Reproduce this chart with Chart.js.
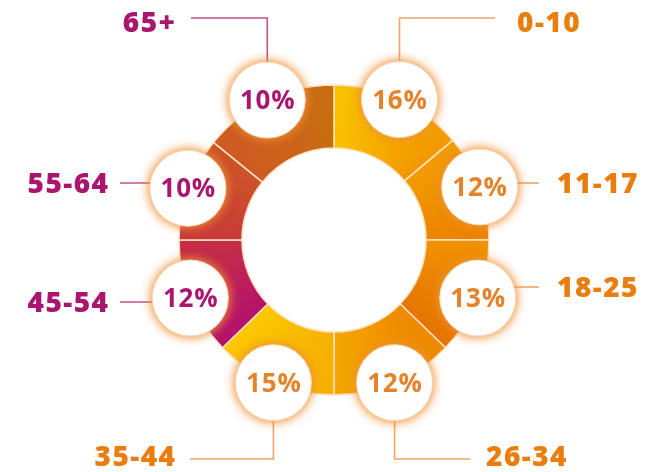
<!DOCTYPE html>
<html>
<head>
<meta charset="utf-8">
<script src="https://cdn.jsdelivr.net/npm/chart.js@4.4.1/dist/chart.umd.min.js"></script>
<style>
  html, body { margin: 0; padding: 0; background: #ffffff; }
  #wrap { width: 657px; height: 472px; position: relative; }
</style>
</head>
<body>
<div id="wrap"><canvas id="c"></canvas></div>
<script>
// ---------- data ----------
const ageGroups = ['0-10', '11-17', '18-25', '26-34', '35-44', '45-54', '55-64', '65+'];
const sharePercent = [16, 12, 13, 12, 15, 12, 10, 10];
// sweep of each wedge as drawn in the picture (degrees) – the wedges are near-equal, not proportional
const wedgeDegrees = [50, 40, 44, 46, 46, 44, 39, 51];

// ---------- styles ----------
const ORANGE = '#e97d0e';
const ORANGE_PCT = '#e5832a';
const MAGENTA = '#a9166e';
const ORANGE_LINE = '#f0a466';
const MAGENTA_LINE = '#c0528c';
const tone = ['o', 'o', 'o', 'o', 'o', 'm', 'm', 'm'];
const segGradient = [
  ['#fac300', '#f29700'],
  ['#f39c00', '#ec8300'],
  ['#f09300', '#e67400'],
  ['#ee8800', '#f5a700'],
  ['#f6b000', '#fdc800'],
  ['#b5126c', '#c72e44'],
  ['#c83a3a', '#cd5428'],
  ['#cf5a22', '#c96e10']
];
// callout layout (annotation positions)
const callouts = [
  { dir: 'up',   lineTo: 495, textX: 517, align: 'left' },
  { dir: 'side', lineTo: 539, textX: 557, align: 'left',  lineY: 183 },
  { dir: 'side', lineTo: 539, textX: 557, align: 'left',  lineY: 287 },
  { dir: 'down', lineTo: 470, textX: 486, align: 'left' },
  { dir: 'down', lineTo: 190, textX: 175, align: 'right' },
  { dir: 'side', lineTo: 120, textX: 108, align: 'right', lineY: 302 },
  { dir: 'side', lineTo: 120, textX: 108, align: 'right', lineY: 183 },
  { dir: 'up',   lineTo: 191, textX: 175, align: 'right' }
];
const TOP_Y = 18, BOTTOM_Y = 459, BUBBLE_R = 38;
const LABEL_FONT = '800 28px "Open Sans", "DejaVu Sans", sans-serif';
const PCT_FONT = '700 26px "Open Sans", "DejaVu Sans", sans-serif';

let ringGradient = null;
function ringFill(ctx) {
  const chart = ctx.chart;
  const area = chart.chartArea;
  if (!area) return segGradient[ctx.dataIndex][0];
  if (!ringGradient) {
    const cx = (area.left + area.right) / 2, cy = (area.top + area.bottom) / 2;
    const g = chart.ctx.createConicGradient(-Math.PI / 2, cx, cy);
    const total = wedgeDegrees.reduce((a, b) => a + b, 0);
    let acc = 0;
    wedgeDegrees.forEach((d, i) => {
      const f0 = acc / total, f1 = (acc + d) / total;
      g.addColorStop(Math.min(1, f0 + (i === 0 ? 0 : 0.0005)), segGradient[i][0]);
      g.addColorStop(Math.max(0, f1 - (i === wedgeDegrees.length - 1 ? 0 : 0.0005)), segGradient[i][1]);
      acc += d;
    });
    ringGradient = g;
  }
  return ringGradient;
}

function drawSpaced(c, text, x, y, align, spacing) {
  // manual letter spacing for canvas text
  const chars = text.split('');
  const widths = chars.map(ch => c.measureText(ch).width);
  const total = widths.reduce((a, b) => a + b, 0) + spacing * (chars.length - 1);
  let sx = align === 'left' ? x : align === 'right' ? x - total : x - total / 2;
  c.save();
  c.textAlign = 'left';
  chars.forEach((ch, k) => { c.fillText(ch, sx, y); sx += widths[k] + spacing; });
  c.restore();
}

const bubblePlugin = {
  id: 'bubbles',
  afterDatasetsDraw(chart) {
    const c = chart.ctx;
    const meta = chart.getDatasetMeta(0);
    const pts = meta.data.map((arc) => {
      const p = arc.getProps(['x', 'y', 'startAngle', 'endAngle', 'outerRadius'], true);
      const mid = (p.startAngle + p.endAngle) / 2;
      return { x: p.x + Math.cos(mid) * p.outerRadius, y: p.y + Math.sin(mid) * p.outerRadius };
    });
    c.save();
    // leader lines
    pts.forEach((pt, i) => {
      const co = callouts[i];
      c.strokeStyle = tone[i] === 'o' ? ORANGE_LINE : MAGENTA_LINE;
      c.lineWidth = 1.6;
      c.beginPath();
      if (co.dir === 'up') {
        c.moveTo(pt.x, pt.y - BUBBLE_R + 2);
        c.lineTo(pt.x, TOP_Y);
        c.lineTo(co.lineTo, TOP_Y);
      } else if (co.dir === 'down') {
        c.moveTo(pt.x, pt.y + BUBBLE_R - 2);
        c.lineTo(pt.x, BOTTOM_Y);
        c.lineTo(co.lineTo, BOTTOM_Y);
      } else {
        const dy = co.lineY - pt.y;
        const dx = Math.sqrt(Math.max(0, BUBBLE_R * BUBBLE_R - dy * dy));
        const sx = co.lineTo > pt.x ? pt.x + dx - 2 : pt.x - dx + 2;
        c.moveTo(sx, co.lineY);
        c.lineTo(co.lineTo, co.lineY);
      }
      c.stroke();
    });
    // bubbles with glow
    pts.forEach((pt) => {
      c.save();
      c.shadowColor = 'rgba(238,145,55,0.8)';
      c.shadowBlur = 11;
      c.fillStyle = '#ffffff';
      c.beginPath();
      c.arc(pt.x, pt.y, BUBBLE_R, 0, Math.PI * 2);
      c.fill();
      c.fill();
      c.restore();
      c.strokeStyle = '#f7d6b2';
      c.lineWidth = 1;
      c.beginPath();
      c.arc(pt.x, pt.y, BUBBLE_R, 0, Math.PI * 2);
      c.stroke();
    });
    // percentage text
    c.textBaseline = 'alphabetic';
    c.font = PCT_FONT;
    pts.forEach((pt, i) => {
      c.fillStyle = tone[i] === 'o' ? ORANGE_PCT : MAGENTA;
      drawSpaced(c, sharePercent[i] + '%', pt.x, pt.y + 9, 'center', 0.8);
    });
    // outer labels
    c.font = LABEL_FONT;
    pts.forEach((pt, i) => {
      const co = callouts[i];
      c.fillStyle = tone[i] === 'o' ? ORANGE : MAGENTA;
      let y;
      if (co.dir === 'up') y = 32;
      else if (co.dir === 'down') y = 466;
      else y = co.lineY + 10;
      drawSpaced(c, ageGroups[i], co.textX, y, co.align, 1.5);
    });
    c.restore();
  }
};

new Chart(document.getElementById('c'), {
  type: 'doughnut',
  data: {
    labels: ageGroups,
    datasets: [{
      data: wedgeDegrees,
      backgroundColor: ringFill,
      borderColor: '#fbe2c2',
      borderWidth: 1.5,
      hoverOffset: 0
    }]
  },
  options: {
    responsive: true,
    maintainAspectRatio: false,
    animation: false,
    radius: 155,
    cutout: '59.4%',
    rotation: 0,
    layout: { padding: { left: 11, right: 0, top: 8, bottom: 0 } },
    plugins: { legend: { display: false }, tooltip: { enabled: false } },
    events: []
  },
  plugins: [bubblePlugin]
});
</script>
</body>
</html>
